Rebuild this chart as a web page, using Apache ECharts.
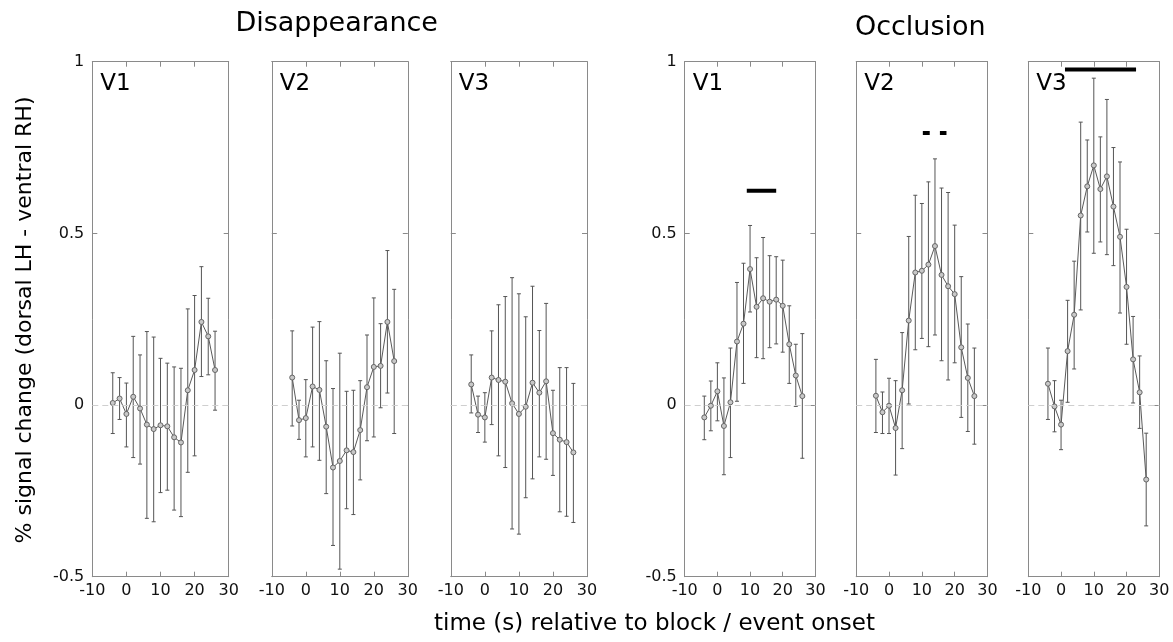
<!DOCTYPE html>
<html>
<head>
<meta charset="utf-8">
<script src="https://cdn.jsdelivr.net/npm/echarts@6/dist/echarts.min.js"></script>
<style>
html,body{margin:0;padding:0;background:#fff;}
#chart{width:1173px;height:642px;}
</style>
</head>
<body>
<div id="chart"></div>
<script>
// ---------- DATA ----------
const timePoints = [-4, -2, 0, 2, 4, 6, 8, 10, 12, 14, 16, 18, 20, 22, 24, 26];
const xTicks = [-10, 0, 10, 20, 30];
const yTicks = [-0.5, 0, 0.5, 1];
const panelLabels = ['V1', 'V2', 'V3', 'V1', 'V2', 'V3'];
const groupTitles = ['Disappearance', 'Occlusion'];
const xTitle = 'time (s) relative to block / event onset';
const yTitle = '% signal change (dorsal LH - ventral RH)';

const disV1Mean  = [0.006, 0.019, -0.026, 0.024, -0.010, -0.057, -0.070, -0.059, -0.062, -0.094, -0.109, 0.043, 0.102, 0.242, 0.200, 0.102];
const disV1Upper = [0.094, 0.080, 0.064, 0.200, 0.146, 0.214, 0.198, 0.136, 0.122, 0.111, 0.107, 0.280, 0.319, 0.403, 0.311, 0.215];
const disV1Lower = [-0.083, -0.042, -0.122, -0.153, -0.172, -0.330, -0.340, -0.255, -0.248, -0.306, -0.325, -0.196, -0.148, 0.083, 0.088, -0.015];

const disV2Mean  = [0.080, -0.044, -0.038, 0.054, 0.044, -0.063, -0.182, -0.163, -0.132, -0.137, -0.073, 0.052, 0.111, 0.114, 0.242, 0.128];
const disV2Upper = [0.216, 0.014, 0.074, 0.227, 0.243, 0.129, 0.048, 0.151, 0.040, 0.043, 0.071, 0.204, 0.312, 0.237, 0.450, 0.337];
const disV2Lower = [-0.061, -0.100, -0.151, -0.122, -0.161, -0.258, -0.409, -0.478, -0.302, -0.319, -0.218, -0.104, -0.093, -0.008, 0.035, -0.083];

const disV3Mean  = [0.060, -0.028, -0.036, 0.080, 0.073, 0.068, 0.005, -0.026, -0.005, 0.065, 0.036, 0.069, -0.082, -0.101, -0.108, -0.138];
const disV3Upper = [0.146, 0.026, 0.036, 0.216, 0.292, 0.316, 0.371, 0.324, 0.257, 0.346, 0.217, 0.296, 0.043, 0.109, 0.109, 0.063];
const disV3Lower = [-0.023, -0.080, -0.108, -0.057, -0.148, -0.182, -0.361, -0.376, -0.270, -0.215, -0.151, -0.158, -0.205, -0.311, -0.324, -0.342];

const occV1Mean  = [-0.036, -0.002, 0.040, -0.061, 0.008, 0.185, 0.237, 0.396, 0.286, 0.311, 0.301, 0.307, 0.289, 0.177, 0.086, 0.026];
const occV1Upper = [0.026, 0.070, 0.123, 0.079, 0.166, 0.357, 0.413, 0.523, 0.429, 0.488, 0.435, 0.432, 0.422, 0.289, 0.177, 0.208];
const occV1Lower = [-0.101, -0.075, -0.046, -0.203, -0.153, 0.011, 0.063, 0.271, 0.138, 0.135, 0.167, 0.178, 0.154, 0.063, -0.004, -0.155];

const occV2Mean  = [0.027, -0.021, -0.002, -0.067, 0.043, 0.246, 0.386, 0.391, 0.409, 0.463, 0.379, 0.346, 0.323, 0.168, 0.079, 0.026];
const occV2Upper = [0.133, 0.038, 0.078, 0.071, 0.211, 0.491, 0.611, 0.587, 0.650, 0.717, 0.632, 0.619, 0.524, 0.374, 0.236, 0.166];
const occV2Lower = [-0.080, -0.083, -0.083, -0.204, -0.127, 0.003, 0.161, 0.194, 0.170, 0.204, 0.129, 0.073, 0.123, -0.036, -0.077, -0.114];

const occV3Mean  = [0.062, -0.004, -0.057, 0.157, 0.263, 0.552, 0.637, 0.698, 0.629, 0.666, 0.578, 0.490, 0.344, 0.133, 0.037, -0.217];
const occV3Upper = [0.166, 0.071, 0.014, 0.305, 0.419, 0.824, 0.772, 0.952, 0.781, 0.890, 0.750, 0.708, 0.512, 0.258, 0.143, -0.082];
const occV3Lower = [-0.042, -0.078, -0.130, 0.008, 0.105, 0.277, 0.504, 0.442, 0.475, 0.438, 0.406, 0.268, 0.177, 0.006, -0.068, -0.352];

// significance bars: [start, end, level]
const sigDisV1 = [];
const sigDisV2 = [];
const sigDisV3 = [];
const sigOccV1 = [[9, 18, 0.624]];
const sigOccV2 = [[10.3, 12.4, 0.792], [15.5, 17.5, 0.792]];
const sigOccV3 = [[1.2, 22.9, 0.977]];

const means  = [disV1Mean, disV2Mean, disV3Mean, occV1Mean, occV2Mean, occV3Mean];
const uppers = [disV1Upper, disV2Upper, disV3Upper, occV1Upper, occV2Upper, occV3Upper];
const lowers = [disV1Lower, disV2Lower, disV3Lower, occV1Lower, occV2Lower, occV3Lower];
const sigs   = [sigDisV1, sigDisV2, sigDisV3, sigOccV1, sigOccV2, sigOccV3];

// ---------- LAYOUT ----------
const FONT = '"DejaVu Sans", Verdana, sans-serif';
const panelLeft  = [92.3, 271.8, 450.8, 684.7, 856.2, 1028.3];
const panelWidth = [136.4, 136.0, 136.2, 130.7, 131.3, 131.0];
const panelTop = 61.7, panelHeight = 515;
const boxColor = '#8a8a8a';

const grids = [], xAxes = [], yAxes = [], series = [], graphics = [];

for (let i = 0; i < 6; i++) {
  grids.push({left: panelLeft[i], top: panelTop, width: panelWidth[i], height: panelHeight, containLabel: false});
  const showY = (i === 0 || i === 3);
  const common = {
    type: 'value', gridIndex: i,
    axisLine: {show: true, onZero: false, lineStyle: {color: boxColor, width: 1}},
    axisTick: {show: true, inside: true, length: 5, lineStyle: {color: boxColor, width: 1}},
    splitLine: {show: false}
  };
  xAxes.push(Object.assign({}, common, {
    position: 'bottom', min: xTicks[0], max: xTicks[xTicks.length - 1], interval: 10,
    axisLabel: {show: true, color: '#111', fontSize: 16, fontFamily: FONT, margin: 6}
  }));
  xAxes.push(Object.assign({}, common, {
    position: 'top', min: xTicks[0], max: xTicks[xTicks.length - 1], interval: 10,
    axisLabel: {show: false}
  }));
  yAxes.push(Object.assign({}, common, {
    position: 'left', min: yTicks[0], max: yTicks[yTicks.length - 1], interval: 0.5,
    axisLabel: {show: showY, color: '#111', fontSize: 16, fontFamily: FONT, margin: 8}
  }));
  yAxes.push(Object.assign({}, common, {
    position: 'right', min: yTicks[0], max: yTicks[yTicks.length - 1], interval: 0.5,
    axisLabel: {show: false}
  }));

  const xIdx = i * 2, yIdx = i * 2;

  // error bars
  series.push({
    type: 'custom', xAxisIndex: xIdx, yAxisIndex: yIdx, z: 2, silent: true,
    data: timePoints.map((t, k) => [t, lowers[i][k], uppers[i][k]]),
    encode: {x: 0, y: [1, 2]},
    renderItem: function (params, api) {
      const x = api.value(0);
      const lo = api.coord([x, api.value(1)]);
      const hi = api.coord([x, api.value(2)]);
      const cw = 2;
      const st = {stroke: '#555', lineWidth: 1, fill: null};
      return {
        type: 'group',
        children: [
          {type: 'line', shape: {x1: lo[0], y1: lo[1], x2: hi[0], y2: hi[1]}, style: st},
          {type: 'line', shape: {x1: hi[0] - cw, y1: hi[1], x2: hi[0] + cw, y2: hi[1]}, style: st},
          {type: 'line', shape: {x1: lo[0] - cw, y1: lo[1], x2: lo[0] + cw, y2: lo[1]}, style: st}
        ]
      };
    }
  });

  // mean line
  series.push({
    type: 'line', xAxisIndex: xIdx, yAxisIndex: yIdx, z: 3,
    data: timePoints.map((t, k) => [t, means[i][k]]),
    symbol: 'circle', symbolSize: 5, showSymbol: true,
    lineStyle: {color: '#5a5a5a', width: 1},
    itemStyle: {color: '#c8c8c8', borderColor: '#666', borderWidth: 1},
    markLine: {
      silent: true, symbol: ['none', 'none'], label: {show: false},
      lineStyle: {type: [6, 4], color: '#cfcfcf', width: 1},
      data: [{yAxis: 0}]
    }
  });

  // significance bars
  sigs[i].forEach(b => {
    series.push({
      type: 'line', xAxisIndex: xIdx, yAxisIndex: yIdx, z: 4, silent: true,
      data: [[b[0], b[2]], [b[1], b[2]]],
      symbol: 'none', lineStyle: {color: '#000', width: 4, cap: 'butt'}
    });
  });

  // panel label
  graphics.push({
    type: 'text', left: panelLeft[i] + 8, top: 73, z: 10,
    style: {text: panelLabels[i], font: '23px ' + FONT, fill: '#000'}
  });
}

graphics.push({type: 'text', x: 336.7, y: 24, z: 10,
  style: {text: groupTitles[0], font: '27px ' + FONT, fill: '#000', align: 'center', verticalAlign: 'middle'}});
graphics.push({type: 'text', x: 920.3, y: 28, z: 10,
  style: {text: groupTitles[1], font: '27px ' + FONT, fill: '#000', align: 'center', verticalAlign: 'middle'}});
graphics.push({type: 'text', x: 434, y: 624, z: 10,
  style: {text: xTitle, font: '23px ' + FONT, fill: '#000', align: 'left', verticalAlign: 'middle'}});
graphics.push({type: 'text', x: 25, y: 320, rotation: Math.PI / 2, z: 10,
  style: {text: yTitle, font: '22px ' + FONT, fill: '#000', align: 'center', verticalAlign: 'middle'}});

const chart = echarts.init(document.getElementById('chart'), null, {renderer: 'canvas'});
chart.setOption({
  animation: false,
  backgroundColor: '#fff',
  grid: grids,
  xAxis: xAxes,
  yAxis: yAxes,
  series: series,
  graphic: graphics
});
</script>
</body>
</html>
